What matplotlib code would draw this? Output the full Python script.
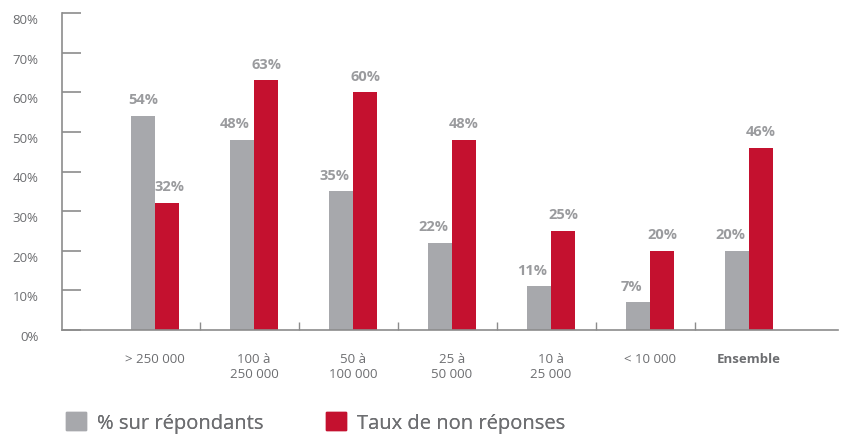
import matplotlib
matplotlib.use("Agg")
import matplotlib.pyplot as plt
import matplotlib.transforms as mtransforms
from matplotlib.patches import Patch

plt.rcParams['font.family'] = ['Open Sans', 'DejaVu Sans']

categories = ["> 250 000", "100 à\n250 000", "50 à\n100 000", "25 à\n50 000", "10 à\n25 000", "< 10 000", "Ensemble"]
repondants = [54, 48, 35, 22, 11, 7, 20]
non_reponses = [32, 63, 60, 48, 25, 20, 46]
yticks = [0, 10, 20, 30, 40, 50, 60, 70, 80]
series_names = ["% sur répondants", "Taux de non réponses"]

GRAY = "#A7A8AC"
RED = "#C4112F"
AXIS = "#8C8C8C"
TXT = "#6D6E71"
LBL = "#9A9B9E"

fig = plt.figure(figsize=(8.52, 4.35), dpi=100)
ax = fig.add_axes([62/852, 1-331/435, (838-62)/852, (331-14)/435])

x = list(range(len(categories)))
w = 0.243
b1 = ax.bar([i - w/2 for i in x], repondants, width=w, color=GRAY, zorder=2)
b2 = ax.bar([i + w/2 for i in x], non_reponses, width=w, color=RED, zorder=2)

for i, (r, v) in enumerate(zip(b1, repondants)):
    dx = -5 if non_reponses[i] > v else 0
    ax.annotate(f"{v}%", (r.get_x() + r.get_width()/2, v), xytext=(dx, 7),
                textcoords="offset points", ha="center", va="bottom",
                fontsize=10.5, fontweight="bold", color=LBL)
for i, (r, v) in enumerate(zip(b2, non_reponses)):
    dx = 2 if repondants[i] > v else 0
    ax.annotate(f"{v}%", (r.get_x() + r.get_width()/2, v), xytext=(dx, 7),
                textcoords="offset points", ha="center", va="bottom",
                fontsize=10.5, fontweight="bold", color=LBL)

ax.set_xlim(-0.94, 6.90)
ax.set_ylim(0, 80)

for s in ("top", "right"):
    ax.spines[s].set_visible(False)
for s in ("left", "bottom"):
    ax.spines[s].set_color(AXIS)
    ax.spines[s].set_linewidth(1.2)

ax.set_yticks(yticks)
ax.set_yticklabels([f"{t}%" for t in yticks])
ax.tick_params(axis="y", direction="in", length=14, width=1.2, color=AXIS,
               labelsize=9.5, labelcolor=TXT, pad=17)
offset = mtransforms.ScaledTranslation(0, -5/100, fig.dpi_scale_trans)
for lab in ax.get_yticklabels():
    lab.set_transform(lab.get_transform() + offset)

ax.set_xticks([i + 0.455 for i in range(6)])
ax.set_xticklabels([])
ax.tick_params(axis="x", direction="in", length=6, width=1, color=AXIS)

for i, c in enumerate(categories):
    ax.text(i, -5.5, c, ha="center", va="top", fontsize=9.5, color=TXT,
            fontweight="bold" if c == "Ensemble" else "normal",
            linespacing=1.2)

handles = [Patch(color=GRAY), Patch(color=RED)]
for h, name, xpos in zip(handles, series_names, (66, 326)):
    leg = fig.legend([h], [name], loc="lower left", bbox_to_anchor=(xpos/852, 1/435),
                     frameon=False, fontsize=14.5, handlelength=1.0, handleheight=1.05,
                     handletextpad=0.55, borderpad=0, borderaxespad=0, labelcolor=TXT)
    fig.add_artist(leg)

fig.savefig("out.png", dpi=100)
